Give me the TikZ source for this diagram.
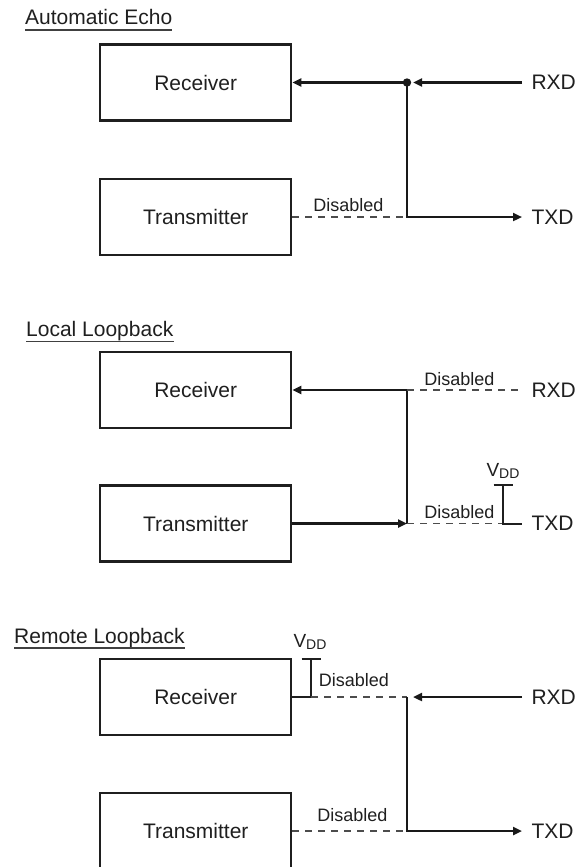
\documentclass[tikz,border=0pt]{standalone}
\usepackage{fontspec}
\setmainfont{Liberation Sans}
\usetikzlibrary{arrows.meta,positioning,calc}

\newcommand{\vddtext}{V\raisebox{-1.5pt}{\fontsize{14}{16}\selectfont DD}}

\begin{document}
\begin{tikzpicture}[x=1pt, y=-1pt, >={Triangle[length=9pt,width=8pt]},
  block/.style={draw=black!88, line width=2.2pt, minimum width=191pt, minimum height=76pt,
    inner sep=0pt, text=black!88, font=\fontsize{21}{25}\selectfont},
  heading/.style={anchor=base west, inner sep=0pt, text=black!88, font=\fontsize{21}{25}\selectfont},
  uline/.style={black!75, line width=1.1pt},
  port/.style={anchor=west, inner sep=0pt, outer xsep=9.5pt, text=black!88, font=\fontsize{21}{25}\selectfont},
  dislabel/.style={anchor=base, inner sep=0pt, text=black!88, font=\fontsize{18}{22}\selectfont},
  supply/.style={anchor=base, inner sep=0pt, text=black!88, font=\fontsize{19}{23}\selectfont},
  sig/.style={black!90, line width=2.6pt},
  bar/.style={black!88, line width=2pt},
  idle/.style={black!70, line width=1.2pt, dash pattern=on 7pt off 6pt}]
\useasboundingbox (0,0) rectangle (577,867);

% Automatic Echo
\node[heading] (t1) at (25,25) {Automatic Echo};
\draw[uline] ([yshift=-5pt]t1.base west) -- ([yshift=-5pt]t1.base east);
\node[block] (rx1) at (195.75,82.5) {Receiver};
\node[block] (tx1) at (195.75,217) {Transmitter};
\node[port] (rxd1) at (522,82.5) {RXD};
\node[port] (txd1) at (522,217) {TXD};
\coordinate (j1) at (407,82.5);
\coordinate (k1) at (407,217);
\draw[sig,->,shorten >=6pt] (rxd1) -- (j1);
\draw[sig,->] (j1) -- (rx1);
\draw[sig,->] (j1) -- (k1) -- (txd1);
\draw[idle] (tx1) -- (k1);
\fill[black!90] (j1) circle (4.2pt);
\node[dislabel] (d1) at (348.5,211.7) {Disabled};

% Local Loopback
\node[heading] (t2) at (26,336.7) {Local Loopback};
\draw[uline] ([yshift=-5pt]t2.base west) -- ([yshift=-5pt]t2.base east);
\node[block] (rx2) at (195.75,390) {Receiver};
\node[block] (tx2) at (195.75,523.5) {Transmitter};
\node[port] (rxd2) at (522,390) {RXD};
\node[port] (txd2) at (522,523.5) {TXD};
\coordinate (j2) at (407,390);
\coordinate (k2) at (407,523.5);
\coordinate (b2) at (503,523.5);
\coordinate (v2) at (503,485);
\draw[sig,->] (j2) -- (rx2);
\draw[sig] (j2) -- (k2);
\draw[sig,->] (tx2) -- (k2);
\draw[idle] (j2) -- (rxd2);
\draw[idle] (k2) -- (b2);
\draw[bar] (v2) -- (b2) -- (txd2);
\draw[bar] ([xshift=-9.5pt]v2) -- ([xshift=9.5pt]v2);
\node[dislabel] (d2) at (459.5,385) {Disabled};
\node[dislabel] (d3) at (459.5,518) {Disabled};
\node[supply] (p2) at (503,476.7) {\vddtext};

% Remote Loopback
\node[heading] (t3) at (14,643) {Remote Loopback};
\draw[uline] ([yshift=-5pt]t3.base west) -- ([yshift=-5pt]t3.base east);
\node[block] (rx3) at (195.75,697) {Receiver};
\node[block] (tx3) at (195.75,831) {Transmitter};
\node[port] (rxd3) at (522,697) {RXD};
\node[port] (txd3) at (522,831) {TXD};
\coordinate (j3) at (407,697);
\coordinate (k3) at (407,831);
\coordinate (b3) at (311,697);
\coordinate (v3) at (311,658.5);
\draw[bar] (rx3) -- (b3) -- (v3);
\draw[bar] ([xshift=-9.5pt]v3) -- ([xshift=9.5pt]v3);
\draw[idle] (b3) -- (j3);
\draw[sig,->,shorten >=6pt] (rxd3) -- (j3);
\draw[sig,->] (j3) -- (k3) -- (txd3);
\draw[idle] (tx3) -- (k3);
\node[dislabel] (d4) at (354,686.7) {Disabled};
\node[dislabel] (d5) at (352.5,821.7) {Disabled};
\node[supply] (p3) at (310,647.7) {\vddtext};
\end{tikzpicture}
\end{document}
